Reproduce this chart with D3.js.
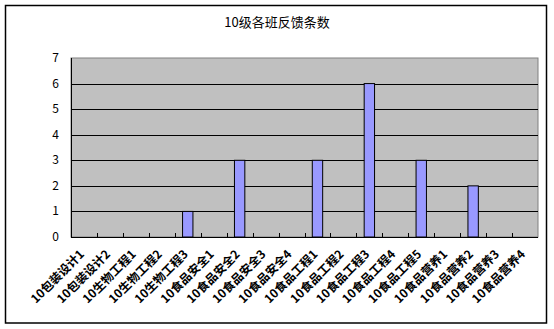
<!DOCTYPE html>
<html>
<head>
<meta charset="utf-8">
<script src="https://cdn.jsdelivr.net/npm/d3@7/dist/d3.min.js"></script>
<style>
  body { margin: 0; background: #fff; }
  text { font-family: "Noto Sans CJK SC", "DejaVu Sans", sans-serif; }
</style>
</head>
<body>
<script>
'use strict';

const title = '10级各班反馈条数';
const classes = [
  '10包装设计1', '10包装设计2', '10生物工程1', '10生物工程2', '10生物工程3',
  '10食品安全1', '10食品安全2', '10食品安全3', '10食品安全4',
  '10食品工程1', '10食品工程2', '10食品工程3', '10食品工程4', '10食品工程5',
  '10食品营养1', '10食品营养2', '10食品营养3', '10食品营养4'
];
const counts = [0, 0, 0, 0, 1, 0, 3, 0, 0, 3, 0, 6, 0, 3, 0, 2, 0, 0];
const yTicks = [0, 1, 2, 3, 4, 5, 6, 7];

const W = 554, H = 329;
const plot = { left: 71, right: 538, top: 58, bottom: 237 };

let svg = d3.select('body').append('svg').attr('width', W).attr('height', H);

// outer chart frame
svg.append('rect')
  .attr('x', 5.5).attr('y', 5.5).attr('width', 541).attr('height', 317.5)
  .attr('fill', '#fff').attr('stroke', '#000').attr('stroke-width', 1.5);

svg.append('text')
  .attr('x', 277).attr('y', 27)
  .attr('text-anchor', 'middle')
  .style('font-size', '13px')
  .text(title);

let xOuter = d3.scaleBand().domain(classes).range([plot.left, plot.right]);
let y = d3.scaleLinear().domain([0, 7]).range([plot.bottom, plot.top]);

// plot area
svg.append('rect')
  .attr('x', plot.left).attr('y', plot.top)
  .attr('width', plot.right - plot.left).attr('height', plot.bottom - plot.top)
  .attr('fill', '#c0c0c0').attr('stroke', '#808080');

// gridlines
svg.append('g').selectAll('line')
  .data(yTicks.slice(1, -1))
  .join('line')
  .attr('x1', plot.left).attr('x2', plot.right)
  .attr('y1', d => Math.round(y(d)) + 0.5).attr('y2', d => Math.round(y(d)) + 0.5)
  .attr('stroke', '#000');

// bars
let bw = xOuter.bandwidth() / 2.5;
svg.append('g').selectAll('rect')
  .data(classes.map((c, i) => ({ c, v: counts[i] })).filter(d => d.v > 0))
  .join('rect')
  .attr('x', d => xOuter(d.c) + (xOuter.bandwidth() - bw) / 2)
  .attr('y', d => y(d.v))
  .attr('width', bw)
  .attr('height', d => y(0) - y(d.v))
  .attr('fill', '#9999ff').attr('stroke', '#000');

// axes lines
svg.append('line').attr('x1', plot.left + 0.5).attr('x2', plot.left + 0.5)
  .attr('y1', plot.top).attr('y2', plot.bottom).attr('stroke', '#000');
svg.append('line').attr('x1', plot.left).attr('x2', plot.right)
  .attr('y1', plot.bottom + 0.5).attr('y2', plot.bottom + 0.5).attr('stroke', '#000');

// category boundary ticks (pointing inward)
svg.append('g').selectAll('line')
  .data(classes.slice(1))
  .join('line')
  .attr('x1', d => Math.round(xOuter(d)) + 0.5).attr('x2', d => Math.round(xOuter(d)) + 0.5)
  .attr('y1', plot.bottom).attr('y2', plot.bottom - 4)
  .attr('stroke', '#000');

// y labels
svg.append('g').selectAll('text')
  .data(yTicks)
  .join('text')
  .attr('x', 59).attr('y', d => y(d) + 4)
  .attr('text-anchor', 'end')
  .style('font-size', '12px')
  .text(d => d);

// x labels rotated
svg.append('g').selectAll('text')
  .data(classes)
  .join('text')
  .attr('transform', d => `translate(${xOuter(d) + xOuter.bandwidth() / 2 - 2},${plot.bottom + 15}) rotate(-45)`)
  .attr('text-anchor', 'end')
  .attr('dy', '0.35em')
  .style('font-size', '12px')
  .style('font-weight', 'bold')
  .text(d => d);
</script>
</body>
</html>
